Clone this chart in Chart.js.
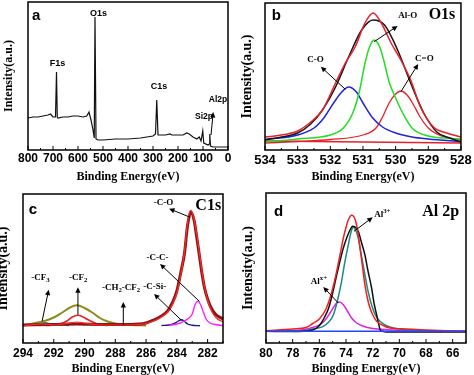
<!DOCTYPE html>
<html>
<head>
<meta charset="utf-8">
<title>XPS spectra</title>
<script src="https://cdn.jsdelivr.net/npm/chart.js@4.4.1/dist/chart.umd.min.js"></script>
<style>
  html, body { margin: 0; padding: 0; background: #fff; }
  body { width: 474px; height: 375px; position: relative; overflow: hidden; }
  canvas { position: absolute; }
</style>
</head>
<body>
<canvas id="panelA" width="237" height="187" style="left:0;top:0"></canvas>
<canvas id="panelB" width="237" height="187" style="left:237px;top:0"></canvas>
<canvas id="panelC" width="243" height="190" style="left:-6px;top:187px"></canvas>
<canvas id="panelD" width="237" height="190" style="left:237px;top:187px"></canvas>
<script>
// (a) survey spectrum
const surveyTicks = [800, 700, 600, 500, 400, 300, 200, 100, 0];
const surveyEnergy = [800, 780, 760, 740, 720, 710, 700, 690, 686, 683, 680, 660, 640, 620, 600, 580, 565, 556, 548, 540,
  535, 532, 528, 520, 500, 450, 400, 350, 300, 290, 285, 280, 270, 250, 232, 225, 200, 180, 165, 155,
  140, 125, 115, 108, 101, 97, 80, 75, 73, 70, 60, 40, 20, 0];
const surveyCounts = [32, 33, 33, 34, 35, 36, 33, 33, 78, 33, 32, 33, 33, 34, 34, 33, 34, 38, 30, 20,
  12, 133, 11, 10, 10, 11, 11, 12, 14, 16, 50, 15, 15, 15, 16, 15, 15, 15, 17, 16,
  13, 11, 13, 9, 19, 7, 5, 6, 16, 4, 3, 3, 3, 3];

// (b) O 1s
const o1sTicks = [534, 533, 532, 531, 530, 529, 528];
const o1sRawEnergy = [534, 533.5, 533, 532.6, 532.24, 531.84, 531.54, 531.24, 530.94, 530.69, 530.44, 530.14, 529.84, 529.54, 529.24, 528.84, 528.44, 528];
const o1sRawCounts = [13, 15, 19, 28, 40, 67, 87, 103, 127, 137, 127, 107, 90, 70, 43, 23, 17, 13];
const o1sFitEnergy = [534, 533.5, 533, 532.6, 532.24, 531.84, 531.44, 531.04, 530.69, 530.34, 529.94, 529.54, 529.14, 528.74, 528.34, 528];
const o1sFitCounts = [10, 13, 17, 26, 40, 63, 93, 120, 130, 125, 100, 67, 37, 18, 12, 8];
const o1sAlOEnergy = [534, 533, 532, 531.6, 531.3, 531.1, 530.95, 530.8, 530.66, 530.5, 530.35, 530.2, 530.0, 529.8, 529.5, 529, 528.5, 528];
const o1sAlOCounts = [8, 11, 15, 22, 38, 60, 85, 103, 110, 104, 88, 68, 52, 38, 22, 14, 12, 11];
const o1sCOEnergy = [534, 533, 532.5, 532.2, 531.9, 531.65, 531.44, 531.2, 531.0, 530.7, 530.4, 530, 529.5, 529, 528];
const o1sCOCounts = [10.5, 15, 22, 32, 47, 58, 63, 58, 47, 32, 23, 17, 13, 11, 8.5];
const o1sCdOEnergy = [534, 533, 532, 531, 530.6, 530.4, 530.2, 530.0, 529.84, 529.65, 529.45, 529.25, 529.0, 528.6, 528];
const o1sCdOCounts = [7, 8.5, 10.5, 15, 22, 33, 47, 56, 59, 55, 45, 33, 22, 14, 10];
const o1sBaseEnergy = [534, 528];
const o1sBaseCounts = [9, 7];

// (c) C 1s
const c1sTicks = [294, 292, 290, 288, 286, 284, 282];
const c1sRawEnergy = [294, 292.8, 292, 291, 290.5, 290, 289, 287, 286, 285.5, 285, 284.6, 284.3, 284.0, 283.75, 283.5, 283.3, 283.1, 282.9, 282.7, 282.54, 282.35, 282.2, 282.0, 281.8, 281.5, 281];
const c1sRawCounts = [17, 19, 18, 20, 21, 20, 18, 18, 19.5, 22, 26, 31, 38, 50, 68, 92, 121, 133, 125, 108, 90, 70, 56, 43, 34, 26, 21];
const c1sFitEnergy = [294, 292, 290.5, 289, 287, 286, 285.5, 285, 284.6, 284.3, 284.0, 283.75, 283.5, 283.3, 283.09, 282.87, 282.7, 282.54, 282.35, 282.2, 282.0, 281.8, 281.5, 281];
const c1sFitCounts = [18, 18.5, 19, 18.5, 18.5, 20, 23, 27, 32, 40, 52, 70, 90, 118, 131, 122, 105, 88, 68, 55, 44, 36, 29, 24];
const c1sCCEnergy = [284.5, 284.0, 283.7, 283.3, 283.0, 282.8, 282.61, 282.45, 282.3, 282.1, 281.9, 281.5, 281];
const c1sCCCounts = [17.5, 19, 20.5, 24, 29, 39, 41.7, 38, 32, 24, 20.5, 18.5, 17.5];
const c1sCSiEnergy = [285, 284.5, 284.1, 283.9, 283.7, 283.5, 283.3, 283.0, 282.5];
const c1sCSiCounts = [17.5, 18, 20, 22, 23.3, 21.5, 19, 17.8, 17.3];
const c1sCF2BroadEnergy = [294, 293.5, 293, 292.5, 292, 291.5, 291, 290.5, 290, 289.5, 289, 288.5, 288, 287, 286];
const c1sCF2BroadCounts = [17.5, 19, 20.5, 22.5, 25.5, 30, 35, 37.7, 35, 30.5, 25, 21.5, 19.5, 18, 17.5];
const c1sCF2Energy = [292.5, 292, 291.5, 291.1, 290.8, 290.43, 290.1, 289.8, 289.4, 289, 288.5];
const c1sCF2Counts = [17.5, 18, 19.5, 22.5, 26, 27.7, 26, 23.5, 20.5, 18.5, 17.5];
const c1sCF3Energy = [294, 293.5, 293.1, 292.87, 292.6, 292.2, 291.8, 291];
const c1sCF3Counts = [17.8, 18.8, 20.5, 21, 20.5, 19, 18, 17.5];

// (d) Al 2p
const al2pTicks = [80, 78, 76, 74, 72, 70, 68, 66];
const al2pRawEnergy = [80, 78, 77, 76.5, 76, 75.5, 75.2, 74.95, 74.7, 74.45, 74.2, 73.95, 73.83, 73.58, 73.3, 73.1, 72.95, 72.75, 72.58, 72.4, 72.2, 71.95, 71.7, 71.2, 70.7, 69.5, 68.45, 66, 65];
const al2pRawCounts = [12.3, 14, 15.5, 19.5, 24, 34, 45, 57, 71.7, 88, 105, 118, 123, 127.7, 123, 110, 95, 75, 58, 45, 35, 27, 21.7, 17.5, 15, 14, 13.3, 12, 11.7];
const al2pFitEnergy = [80, 78, 77.2, 76.45, 76.2, 75.95, 75.6, 75.3, 75.0, 74.7, 74.45, 74.2, 73.95, 73.7, 73.5, 73.28, 73.08, 72.85, 72.58, 72.35, 72.08, 71.9, 71.7, 71.55, 71.4, 70.7, 65];
const al2pFitCounts = [11.7, 11.5, 11.7, 13.3, 15, 18.3, 26, 35, 50, 68, 82, 95, 105, 113, 116.7, 115.5, 111.7, 101, 88, 72, 55, 40, 28, 19, 12.3, 11, 11];
const al2pAl3Energy = [80, 78, 77.2, 76.5, 75.7, 75.3, 74.95, 74.65, 74.33, 74.1, 73.83, 73.6, 73.45, 73.25, 73.08, 72.85, 72.58, 72.35, 72.08, 71.8, 71.45, 71.0, 70.45, 69.5, 68.45, 65];
const al2pAl3Counts = [11.7, 12, 12.3, 14, 16.7, 21, 28, 42, 61.7, 80, 98, 112, 115.7, 112, 105, 88, 68, 52, 38, 28, 21.7, 17.5, 15, 13.3, 12.3, 11.7];
const al2pAlxEnergy = [80, 78, 77.2, 76.5, 75.95, 75.5, 75.2, 74.95, 74.7, 74.5, 74.2, 73.9, 73.58, 73.2, 72.7, 72, 70.95, 68, 65];
const al2pAlxCounts = [11.7, 12.5, 13.3, 15.5, 18.3, 24, 30, 35.5, 40, 41, 38.3, 32, 25, 20, 16.7, 14.5, 13.3, 12.3, 11.7];
const al2pBaseEnergy = [80, 65];
const al2pBaseCounts = [11.7, 11.7];

const SANS = 'Liberation Sans';
const SERIF = 'Liberation Serif';

// text with _{sub} and ^{sup} parts, e.g. -CF_{2}
function drawRich(ctx, text, px, py, size, family, align) {
  const parts = text.split(/([_^]\{[^}]*\})/).filter(Boolean).map(p => {
    if (p[0] === '_') return { t: p.slice(2, -1), dy: size * 0.3, s: size * 0.75 };
    if (p[0] === '^') return { t: p.slice(2, -1), dy: -size * 0.4, s: size * 0.75 };
    return { t: p, dy: 0, s: size };
  });
  let total = 0;
  parts.forEach(p => {
    ctx.font = `bold ${p.s}px "${family}"`;
    p.w = ctx.measureText(p.t).width;
    total += p.w;
  });
  let cx = align === 'left' ? px : px - total / 2;
  ctx.textAlign = 'left';
  ctx.textBaseline = 'middle';
  parts.forEach(p => {
    ctx.font = `bold ${p.s}px "${family}"`;
    ctx.fillText(p.t, cx, py + p.dy);
    cx += p.w;
  });
}

// frame, inward ticks, arrows and peak labels
function decor(step, notes, arrows) {
  return {
    id: 'decor',
    afterDatasetsDraw(chart) {
      const { ctx, chartArea: area, scales: { x, y } } = chart;
      ctx.save();
      ctx.strokeStyle = '#000';
      ctx.fillStyle = '#000';
      ctx.lineWidth = 1.5;
      ctx.strokeRect(area.left, area.top, area.right - area.left, area.bottom - area.top);

      const half = step / 2;
      ctx.lineWidth = 1;
      for (let n = Math.ceil(x.min / half - 1e-6); n * half <= x.max + 1e-6; n++) {
        const px = x.getPixelForValue(n * half);
        ctx.beginPath();
        ctx.moveTo(px, area.bottom);
        ctx.lineTo(px, area.bottom - (n % 2 === 0 ? 4 : 2));
        ctx.stroke();
      }

      arrows.forEach(a => {
        const x0 = x.getPixelForValue(a.from[0]), y0 = y.getPixelForValue(a.from[1]);
        const x1 = x.getPixelForValue(a.to[0]), y1 = y.getPixelForValue(a.to[1]);
        const ang = Math.atan2(y1 - y0, x1 - x0);
        ctx.beginPath();
        ctx.moveTo(x0, y0);
        ctx.lineTo(x1 - 4 * Math.cos(ang), y1 - 4 * Math.sin(ang));
        ctx.stroke();
        ctx.beginPath();
        ctx.moveTo(x1, y1);
        ctx.lineTo(x1 - 6 * Math.cos(ang - 0.45), y1 - 6 * Math.sin(ang - 0.45));
        ctx.lineTo(x1 - 6 * Math.cos(ang + 0.45), y1 - 6 * Math.sin(ang + 0.45));
        ctx.closePath();
        ctx.fill();
      });

      notes.forEach(n => drawRich(ctx, n.text, x.getPixelForValue(n.x), y.getPixelForValue(n.y),
        n.size, n.family, n.align || 'center'));
      ctx.restore();
    }
  };
}

function spectrum(id, opts) {
  return new Chart(document.getElementById(id), {
    type: 'line',
    data: {
      datasets: opts.series.map(s => ({
        data: s.energy.map((e, i) => ({ x: e, y: s.counts[i] })),
        borderColor: s.color,
        borderWidth: s.width,
        pointRadius: 0,
        fill: false,
        tension: 0,
        cubicInterpolationMode: opts.smooth ? 'monotone' : 'default'
      }))
    },
    options: {
      responsive: false,
      animation: false,
      events: [],
      layout: { padding: opts.padding },
      plugins: { legend: { display: false }, tooltip: { enabled: false } },
      scales: {
        x: {
          type: 'linear',
          reverse: true,
          bounds: 'data',
          min: opts.range[0],
          max: opts.range[1],
          afterBuildTicks: scale => { scale.ticks = opts.ticks.map(v => ({ value: v })); },
          afterFit: scale => { scale.height = opts.axisHeight; },
          grid: { display: false, drawTicks: false },
          border: { display: false },
          ticks: {
            autoSkip: false,
            maxRotation: 0,
            padding: opts.tickPad,
            color: '#000',
            font: { family: SANS, weight: 'bold', size: opts.tickSize }
          },
          title: {
            display: true,
            text: opts.xTitle,
            color: '#000',
            font: { family: SERIF, weight: 'bold', size: 12 },
            padding: { top: 0, bottom: opts.titlePad }
          }
        },
        y: {
          min: 0,
          max: opts.top,
          afterFit: scale => { scale.width = opts.axisWidth; },
          grid: { display: false, drawTicks: false },
          border: { display: false },
          ticks: { display: false },
          title: {
            display: true,
            text: 'Intensity(a.u.)',
            color: '#000',
            font: { family: SERIF, weight: 'bold', size: opts.yTitleSize },
            padding: { top: opts.yTitlePad, bottom: 0 }
          }
        }
      }
    },
    plugins: [decor(opts.step, opts.notes, opts.arrows)]
  });
}

spectrum('panelA', {
  range: [0, 800], ticks: surveyTicks, step: 100, top: 148, smooth: false,
  padding: { left: 0, top: 2, right: 9, bottom: 0 },
  axisWidth: 28, axisHeight: 37, tickPad: 1.5, tickSize: 12, titlePad: 2.8,
  yTitleSize: 12, yTitlePad: 1.8, xTitle: 'Binding Energy(eV)',
  series: [{ energy: surveyEnergy, counts: surveyCounts, color: '#111', width: 1.2 }],
  notes: [
    { text: 'a', x: 784, y: 134, size: 15, family: SANS, align: 'left' },
    { text: 'O1s', x: 518, y: 136, size: 9, family: SANS },
    { text: 'F1s', x: 682, y: 86.5, size: 9, family: SANS },
    { text: 'C1s', x: 276, y: 63, size: 9, family: SANS },
    { text: 'Si2p', x: 96, y: 33, size: 8.5, family: SANS },
    { text: 'Al2p', x: 40, y: 50, size: 8.5, family: SANS }
  ],
  arrows: [{ from: [68, 15], to: [59, 38] }]
});

spectrum('panelB', {
  range: [528, 534], ticks: o1sTicks, step: 1, top: 147, smooth: true,
  padding: { left: 0, top: 3, right: 9, bottom: 0 },
  axisWidth: 28, axisHeight: 37, tickPad: 2.2, tickSize: 13, titlePad: 3,
  yTitleSize: 14, yTitlePad: 1.6, xTitle: 'Binding Energy(eV)',
  series: [
    { energy: o1sRawEnergy, counts: o1sRawCounts, color: '#e8202a', width: 1.5 },
    { energy: o1sFitEnergy, counts: o1sFitCounts, color: '#151515', width: 1.5 },
    { energy: o1sAlOEnergy, counts: o1sAlOCounts, color: '#22dd22', width: 1.5 },
    { energy: o1sCOEnergy, counts: o1sCOCounts, color: '#2222dd', width: 1.5 },
    { energy: o1sCdOEnergy, counts: o1sCdOCounts, color: '#e8202a', width: 1.3 },
    { energy: o1sBaseEnergy, counts: o1sBaseCounts, color: '#e8202a', width: 1.3 }
  ],
  notes: [
    { text: 'b', x: 533.79, y: 134, size: 15, family: SANS, align: 'left' },
    { text: 'O1s', x: 528.58, y: 135, size: 16, family: SERIF },
    { text: 'Al-O', x: 529.63, y: 134, size: 9, family: SERIF },
    { text: 'C-O', x: 532.45, y: 90, size: 9, family: SERIF },
    { text: 'C=O', x: 529.12, y: 91, size: 9, family: SERIF }
  ],
  arrows: [
    { from: [530.66, 108.3], to: [529.94, 124] },
    { from: [531.54, 60.7], to: [532.29, 83.3] },
    { from: [529.84, 58.3], to: [529.31, 86] }
  ]
});

spectrum('panelC', {
  range: [281, 294], ticks: c1sTicks, step: 2, top: 149, smooth: true,
  padding: { left: 0, top: 7, right: 14, bottom: 0 },
  axisWidth: 29, axisHeight: 34, tickPad: 3.5, tickSize: 12, titlePad: 0.5,
  yTitleSize: 14, yTitlePad: 0.9, xTitle: 'Binding Energy(eV)',
  series: [
    { energy: c1sRawEnergy, counts: c1sRawCounts, color: '#ff2a2a', width: 1.2 },
    { energy: c1sFitEnergy, counts: c1sFitCounts, color: '#8c1515', width: 3 },
    { energy: c1sCCEnergy, counts: c1sCCCounts, color: '#ff22ff', width: 1.4 },
    { energy: c1sCSiEnergy, counts: c1sCSiCounts, color: '#1c1c8c', width: 1.4 },
    { energy: c1sCF2BroadEnergy, counts: c1sCF2BroadCounts, color: '#8c8c1c', width: 2 },
    { energy: c1sCF2Energy, counts: c1sCF2Counts, color: '#ee2222', width: 1.6 },
    { energy: c1sCF3Energy, counts: c1sCF3Counts, color: '#229a9a', width: 1.4 }
  ],
  notes: [
    { text: 'c', x: 293.63, y: 133.3, size: 15, family: SANS, align: 'left' },
    { text: 'C1s', x: 281.96, y: 136.7, size: 16, family: SERIF },
    { text: '-C-O', x: 284.87, y: 140, size: 9, family: SERIF },
    { text: '-C-C-', x: 285.26, y: 85, size: 9, family: SERIF },
    { text: '-C-Si-', x: 285.43, y: 56, size: 9, family: SERIF },
    { text: '-CH_{2}-CF_{2}', x: 287.63, y: 55, size: 9, family: SERIF },
    { text: '-CF_{2}', x: 290.41, y: 65.7, size: 9, family: SERIF },
    { text: '-CF_{3}', x: 292.87, y: 65, size: 9, family: SERIF }
  ],
  arrows: [
    { from: [283.13, 125.7], to: [284.5, 134.3] },
    { from: [282.54, 41.7], to: [285.09, 79] },
    { from: [283.7, 22.7], to: [285.48, 49] },
    { from: [287.48, 17.7], to: [287.48, 41] },
    { from: [290.43, 28.3], to: [290.43, 55.7] },
    { from: [292.76, 21.7], to: [292.33, 53.3] }
  ]
});

spectrum('panelD', {
  range: [65, 80], ticks: al2pTicks, step: 2, top: 150, smooth: true,
  padding: { left: 0, top: 6, right: 8, bottom: 0 },
  axisWidth: 29, axisHeight: 34, tickPad: 3.5, tickSize: 12, titlePad: 0.5,
  yTitleSize: 14, yTitlePad: 3.3, xTitle: 'Bingding Energy(eV)',
  series: [
    { energy: al2pBaseEnergy, counts: al2pBaseCounts, color: '#2244ff', width: 1.5 },
    { energy: al2pRawEnergy, counts: al2pRawCounts, color: '#f02020', width: 1.5 },
    { energy: al2pFitEnergy, counts: al2pFitCounts, color: '#101010', width: 1.5 },
    { energy: al2pAl3Energy, counts: al2pAl3Counts, color: '#1a8c80', width: 1.5 },
    { energy: al2pAlxEnergy, counts: al2pAlxCounts, color: '#e020e0', width: 1.5 }
  ],
  notes: [
    { text: 'd', x: 79.4, y: 131.2, size: 15, family: SANS, align: 'left' },
    { text: 'Al 2p', x: 66.9, y: 131, size: 16, family: SERIF },
    { text: 'Al^{3+}', x: 71.28, y: 128.3, size: 9, family: SERIF },
    { text: 'Al^{x+}', x: 76.03, y: 61, size: 9, family: SERIF }
  ],
  arrows: [
    { from: [73.4, 111.7], to: [72, 125.7] },
    { from: [74.58, 40], to: [75.7, 56] }
  ]
});
</script>
</body>
</html>
